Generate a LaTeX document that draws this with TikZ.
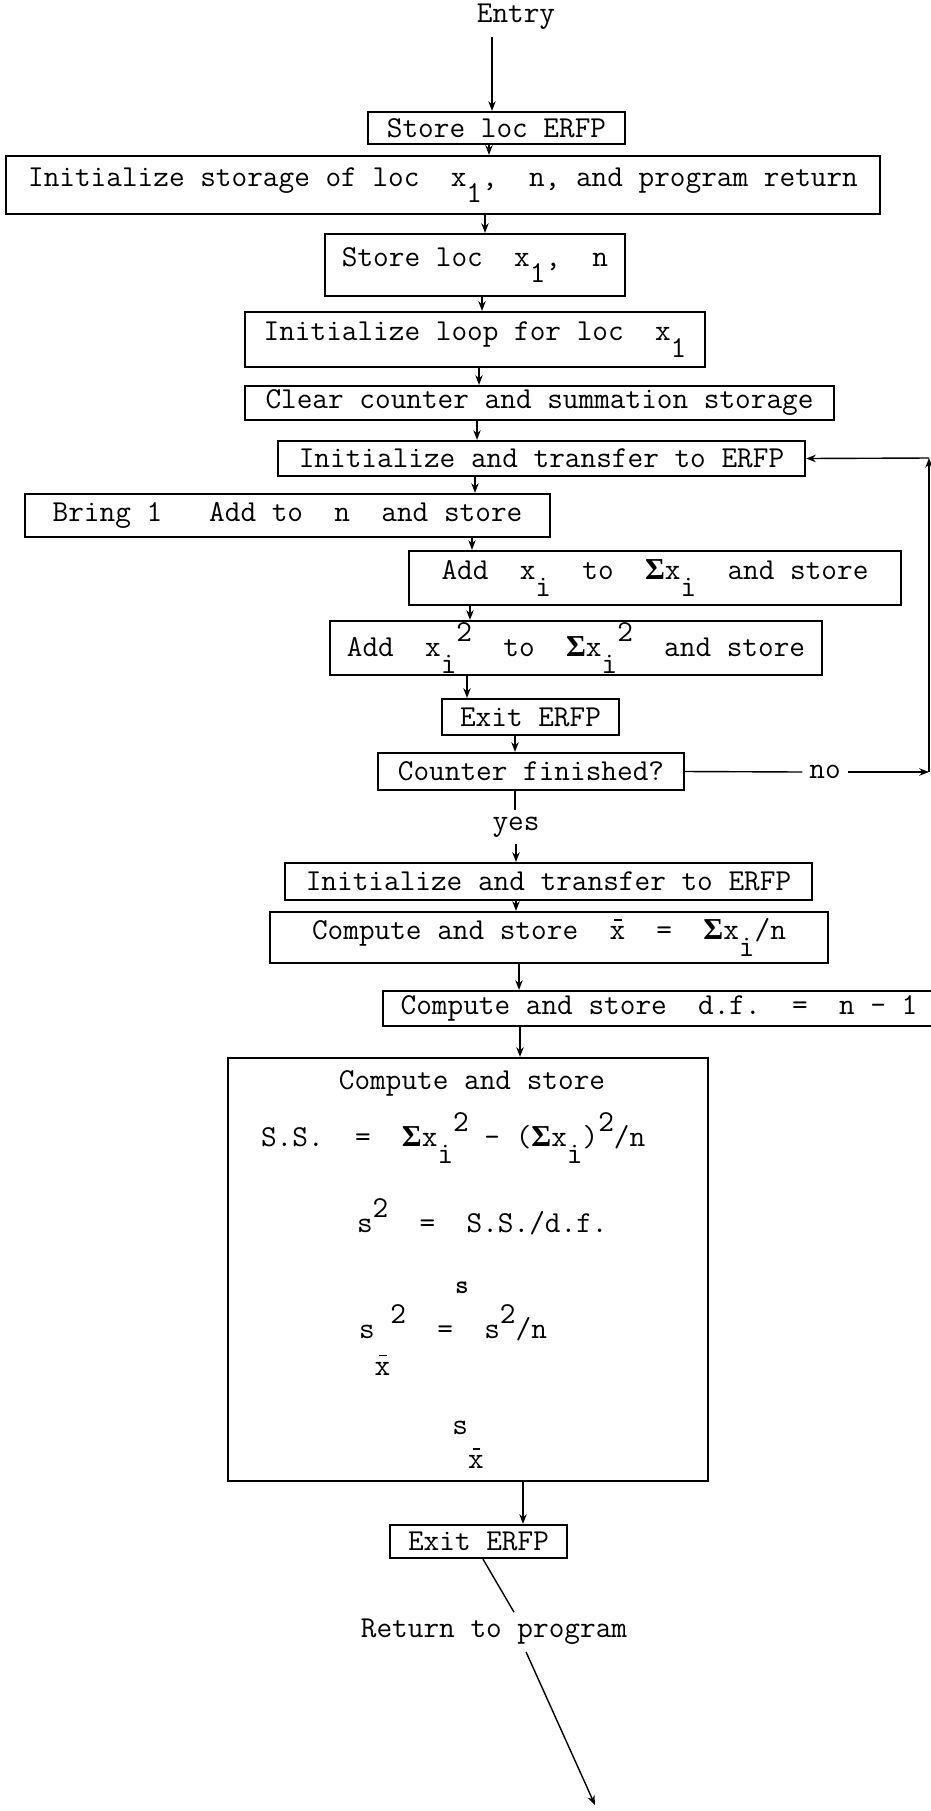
\documentclass[tikz,border=0pt]{standalone}
\usepackage{fontspec}
\newfontfamily\sgfont{Liberation Serif}
\usetikzlibrary{arrows.meta,positioning,calc}
\newcommand{\dn}[1]{\raisebox{-.55em}{#1}}
\newcommand{\up}[1]{\raisebox{.5em}{#1}}
\newcommand{\sg}{{\sgfont\bfseries Σ}}
\newcommand{\xbar}{\leavevmode\rlap{\raisebox{.62em}{\kern.15em\rule{.25em}{.7pt}}}x}
\tikzset{
  stepbox/.style={draw,line width=1.1pt,inner sep=0pt,align=center},
  wh/.style 2 args={minimum width=#1*0.5pt,minimum height=#2*0.5pt},
  flow/.style={-{Stealth[length=1.7mm,width=1.3mm]},line width=.7pt},
  plain/.style={line width=.7pt},
}
\begin{document}
\begin{tikzpicture}[x=0.5pt,y=-0.5pt,font=\ttfamily\fontsize{15.2}{18}\selectfont]
  \useasboundingbox (0,0) rectangle (931,1811);
  \node (entry) at (516,17) {Entry};
  % set up
  \node[stepbox,wh={257}{32}] (store) at (496.5,128) {Store loc ERFP};
  \node[stepbox,wh={874}{58}] (initstor) at (443,185)
    {Initialize storage of loc~~x\dn{1},~~n, and program return};
  \node[stepbox,wh={300}{62}] (storex) at (475,265) {Store loc~~x\dn{1},~~n};
  \node[stepbox,wh={460}{55}] (initloop) at (475,339.5) {Initialize loop for loc~~x\dn{1}};
  \node[stepbox,wh={589}{34}] (clear) at (539.5,403) {Clear counter and summation storage};
  % loop
  \node[stepbox,wh={527}{35}] (inittr) at (541.5,458.5) {Initialize and transfer to ERFP};
  \node[stepbox,wh={525}{43}] (bring) at (287.5,515.5) {Bring 1~~~Add to~~n~~and store};
  \node[stepbox,wh={492}{54}] (addx) at (655,578) {Add~~x\dn{i}~~to~~\sg x\dn{i}~~and store};
  \node[stepbox,wh={492}{54}] (addxx) at (576,648)
    {Add~~x\dn{i}\up{2}~~to~~\sg x\dn{i}\up{2}~~and store};
  \node[stepbox,wh={177}{36}] (exitA) at (530.5,717) {Exit ERFP};
  \node[stepbox,wh={306}{37}] (counter) at (531,771.5) {Counter finished?};
  \node (no) at (825,772) {no};
  \node (yes) at (516,827) {yes};
  % results
  \node[stepbox,wh={527}{37}] (inittrB) at (548.5,881.5) {Initialize and transfer to ERFP};
  \node[stepbox,wh={558}{51}] (mean) at (549,937.5) {Compute and store~~\xbar~~=~~\sg x\dn{i}/n};
  \node[stepbox,wh={552}{35}] (df) at (659,1008.5) {Compute and store~~d.f.~~=~~n - 1};
  \node[stepbox,wh={480}{423}] (big) at (468,1269.5) {};
  \node (cs) at (472,1083) {Compute and store};
  \node[anchor=west] (ss) at (254,1138) {S.S.~~=~~\sg x\dn{i}\up{2} - (\sg x\dn{i})\up{2}/n};
  \node[anchor=west] (var) at (350,1217) {s\up{2}~~=~~S.S./d.f.};
  \node[font=\ttfamily\bfseries\fontsize{13}{15}\selectfont] (sb) at (462,1288) {s};
  \node[anchor=west] (varm) at (352,1340) {s\raisebox{-1.2em}{\xbar}\up{2}~~=~~s\up{2}/n};
  \node (sem) at (468,1445) {s\raisebox{-1.1em}{\xbar}};
  \node[stepbox,wh={177}{33}] (exitB) at (478.5,1541.5) {Exit ERFP};
  \node (ret) at (494,1632) {Return to program};
  \coordinate (lb) at (929,772);
  \coordinate (lt) at (929,458);
  \coordinate (rend) at (595,1805);
  % connectors
  \draw[flow] (entry.south -| 492,0) -- (store.north -| 492,0);
  \foreach \a/\b/\x in {store/initstor/489,initstor/storex/485,storex/initloop/482,
                        initloop/clear/479,clear/inittr/477,inittr/bring/475,bring/addx/472,
                        addx/addxx/470,addxx/exitA/467,exitA/counter/515,
                        inittrB/mean/516,mean/df/519,df/big/520,big/exitB/523}
    {\draw[flow] (\a.south -| \x,0) -- (\b.north -| \x,0);}
  \draw[plain] (counter.south -| 515,0) -- (yes.north -| 515,0);
  \draw[flow] (yes.south) -- (inittrB.north -| yes.south);
  \draw[plain] (counter.east) -- (no.west);
  \draw[flow] (no.east) -- (lb);
  \draw[flow] (lb) -- (lt);
  \draw[flow] (lt) -- (inittr.east);
  \draw[plain] (exitB.south -| 483,0) -- (ret.north -| 514,0);
  \draw[flow] (ret.south -| 526,0) -- (rend);
\end{tikzpicture}
\end{document}
